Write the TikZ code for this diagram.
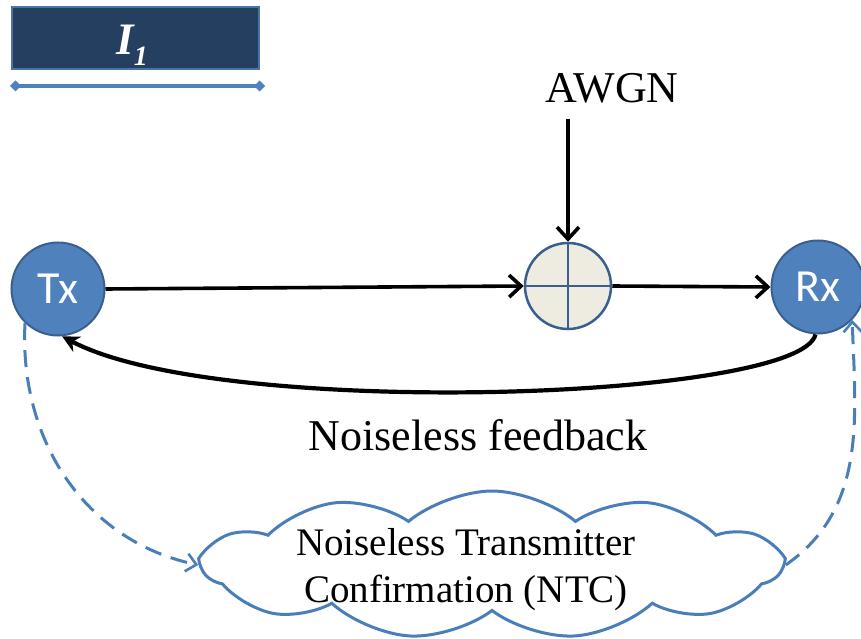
\documentclass[tikz,border=0pt]{standalone}
\usepackage{fontspec}
\setmainfont{Liberation Serif}
\newfontfamily\calfont{Carlito}
\usetikzlibrary{arrows.meta,shapes.symbols}
\definecolor{nodeblue}{HTML}{4F81BD}
\definecolor{nodeedge}{HTML}{3A5F8F}
\definecolor{sumfill}{HTML}{EEECE1}
\definecolor{lineblue}{HTML}{4A7EBB}
\definecolor{boxfill}{HTML}{243F60}
\definecolor{boxedge}{HTML}{4A73A6}
\tikzset{
  endpoint/.style={circle, fill=nodeblue, draw=nodeedge, line width=2pt, minimum size=93pt, inner sep=0pt, text=white, font=\calfont\fontsize{46}{50}\selectfont},
  sumnode/.style={circle, fill=sumfill, draw=nodeedge, line width=2.5pt, minimum size=86pt, inner sep=0pt},
  bigtext/.style={font=\fontsize{44}{50}\selectfont, inner sep=0pt},
  blackarrow/.style={line width=3.6pt, -{Straight Barb[length=12pt,width=22pt,line width=3.6pt]}},
  dasharrow/.style={lineblue, line width=3pt, dash pattern=on 17pt off 10pt, -{Straight Barb[length=10pt,width=18pt,line width=2.6pt]}},
}
\begin{document}
\begin{tikzpicture}[x=1pt,y=-1pt]
\useasboundingbox (0,0) rectangle (861,639);
% title box
\node[rectangle, fill=boxfill, draw=boxedge, line width=2pt, minimum width=247pt, minimum height=62pt, inner sep=0pt] (i1box) at (135,38.5) {};
\node[anchor=base, text=white, inner sep=0pt, font=\bfseries\itshape\fontsize{45}{50}\selectfont] (i1) at (132,55) {I\raisebox{-11pt}{\fontsize{28}{30}\selectfont 1}};
\coordinate (la) at (10,86);
\coordinate (lb) at (265,86);
\draw[nodeblue, line width=3.5pt, {Diamond[length=11pt,width=11pt]}-{Diamond[length=11pt,width=11pt]}] (la) -- (lb);
% nodes
\node[endpoint] (tx) at (58,289) {Tx};
\node[endpoint] (rx) at (818,287) {Rx};
\node[sumnode] (sum) at (568,286) {};
\draw[nodeedge, line width=2.5pt] (sum.north) -- (sum.south) (sum.west) -- (sum.east);
\node[bigtext, anchor=base] (awgn) at (612,103) {AWGN};
\node[bigtext, anchor=base] (fb) at (478,450) {Noiseless feedback};
% cloud
\node[cloud, cloud puffs=11, cloud puff arc=80, aspect=3.9, draw=lineblue, fill=white, line width=3pt, minimum width=578pt, minimum height=148pt, inner sep=0pt] (cloud) at (492,565) {};
\node[align=center, inner sep=0pt, font=\fontsize{39}{47}\selectfont] (ntc) at (466,570) {Noiseless Transmitter\\Confirmation (NTC)};
% arrows
\draw[blackarrow, shorten <=15pt] (sum.north |- awgn.south) -- (sum.north);
\draw[blackarrow] (tx.east) -- (sum.west);
\draw[blackarrow] (sum.east) -- (rx.west);
\draw[line width=4.2pt, -{Stealth[length=17pt,width=17pt]}] (rx.-93) .. controls (800,400) and (220,420) .. (tx.-85);
\draw[dasharrow] (tx.226) to[out=-93, in=168] (cloud.west);
\draw[dasharrow] (cloud.east) to[out=35, in=-88] (rx.-44);
\end{tikzpicture}
\end{document}
